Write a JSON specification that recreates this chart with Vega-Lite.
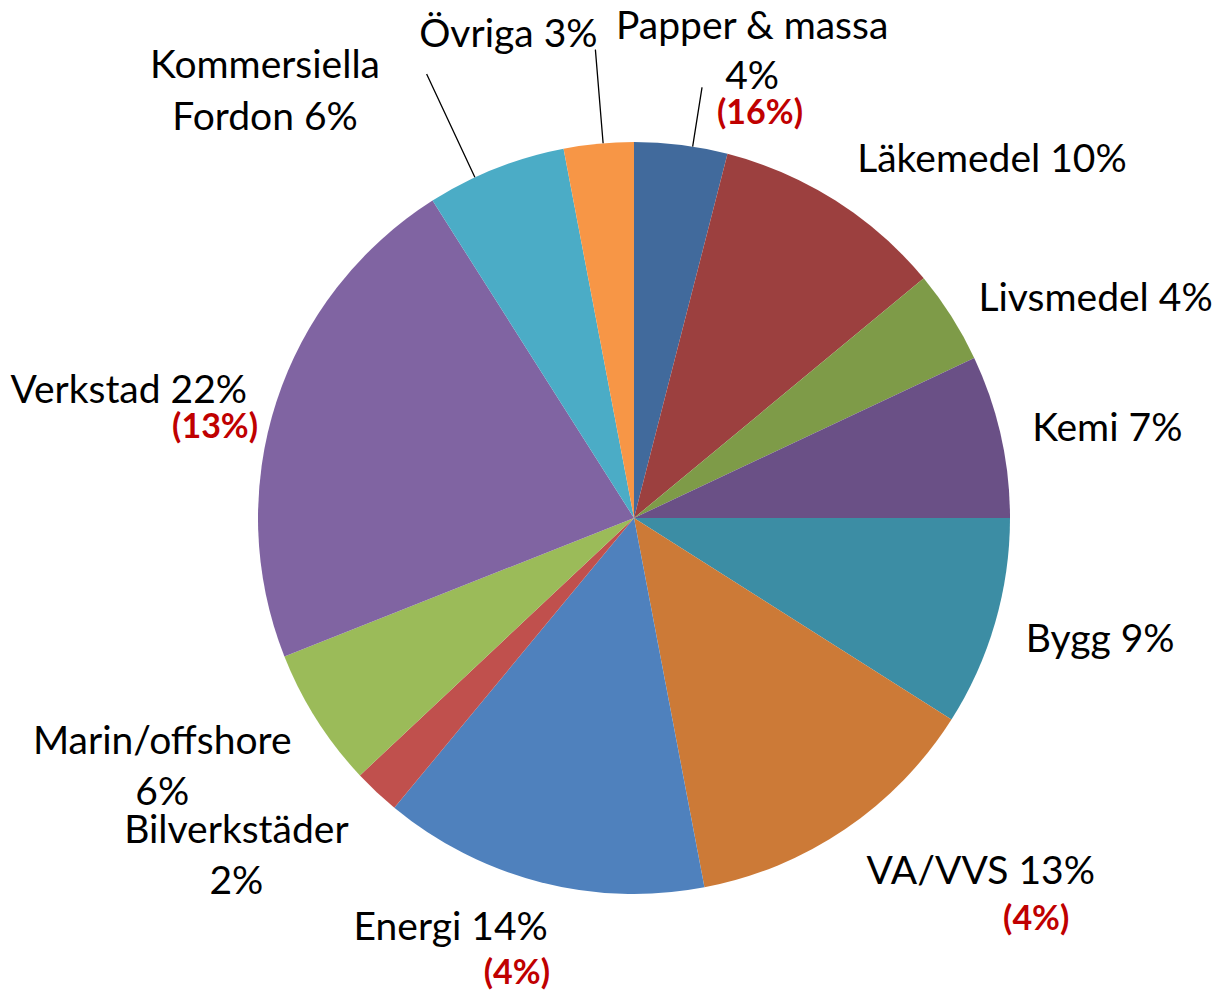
{
  "$schema": "https://vega.github.io/schema/vega-lite/v6.json",
  "autosize": "none",
  "padding": {"left": 53, "top": 40, "right": 0, "bottom": 0},
  "width": 1162,
  "height": 956,
  "background": "white",
  "view": {"stroke": null},
  "config": {"text": {"font": "Lato", "fontSize": 39, "baseline": "middle", "lineBreak": "\n", "lineHeight": 52}},
  "data": {
    "values": [
      {"n": 1, "sector": "Papper & massa", "pct": 4, "label": "Papper & massa\n4%", "note": "(16%)"},
      {"n": 2, "sector": "Läkemedel", "pct": 10, "label": "Läkemedel 10%", "note": ""},
      {"n": 3, "sector": "Livsmedel", "pct": 4, "label": "Livsmedel 4%", "note": ""},
      {"n": 4, "sector": "Kemi", "pct": 7, "label": "Kemi 7%", "note": ""},
      {"n": 5, "sector": "Bygg", "pct": 9, "label": "Bygg 9%", "note": ""},
      {"n": 6, "sector": "VA/VVS", "pct": 13, "label": "VA/VVS 13%", "note": "(4%)"},
      {"n": 7, "sector": "Energi", "pct": 14, "label": "Energi 14%", "note": "(4%)"},
      {"n": 8, "sector": "Bilverkstäder", "pct": 2, "label": "Bilverkstäder\n2%", "note": ""},
      {"n": 9, "sector": "Marin/offshore", "pct": 6, "label": "Marin/offshore\n6%", "note": ""},
      {"n": 10, "sector": "Verkstad", "pct": 22, "label": "Verkstad 22%", "note": "(13%)"},
      {"n": 11, "sector": "Kommersiella Fordon", "pct": 6, "label": "Kommersiella\nFordon 6%", "note": ""},
      {"n": 12, "sector": "Övriga", "pct": 3, "label": "Övriga 3%", "note": ""}
    ]
  },
  "encoding": {
    "theta": {"field": "pct", "type": "quantitative", "stack": true},
    "order": {"field": "n", "type": "quantitative"}
  },
  "layer": [
    {
      "mark": {"type": "arc", "radius": 376},
      "encoding": {
        "color": {
          "field": "sector", "type": "nominal", "legend": null,
          "sort": ["Papper & massa", "Läkemedel", "Livsmedel", "Kemi", "Bygg", "VA/VVS", "Energi", "Bilverkstäder", "Marin/offshore", "Verkstad", "Kommersiella Fordon", "Övriga"],
          "scale": {
            "domain": ["Papper & massa", "Läkemedel", "Livsmedel", "Kemi", "Bygg", "VA/VVS", "Energi", "Bilverkstäder", "Marin/offshore", "Verkstad", "Kommersiella Fordon", "Övriga"],
            "range": ["#416A9C", "#9C403F", "#7E9B48", "#6A5086", "#3C8DA4", "#CC7A37", "#4F81BD", "#C0504D", "#9BBB59", "#8064A2", "#4BACC6", "#F79646"]
          }
        }
      }
    },
    {
      "mark": {"type": "arc", "innerRadius": 376, "outerRadius": 436, "padAngle": 1.5, "thetaOffset": 0.031, "fillOpacity": 0, "stroke": "black", "strokeWidth": 1.3},
      "encoding": {
        "detail": {"field": "sector"},
        "strokeOpacity": {"condition": {"test": "datum.sector === 'Papper & massa'", "value": 1}, "value": 0}
      }
    },
    {
      "mark": {"type": "arc", "innerRadius": 376, "outerRadius": 470, "padAngle": 1.5, "thetaOffset": 0.012, "fillOpacity": 0, "stroke": "black", "strokeWidth": 1.3},
      "encoding": {
        "detail": {"field": "sector"},
        "strokeOpacity": {"condition": {"test": "datum.sector === 'Övriga'", "value": 1}, "value": 0}
      }
    },
    {
      "mark": {"type": "arc", "innerRadius": 376, "outerRadius": 490, "padAngle": 1.5, "thetaOffset": -0.06, "fillOpacity": 0, "stroke": "black", "strokeWidth": 1.3},
      "encoding": {
        "detail": {"field": "sector"},
        "strokeOpacity": {"condition": {"test": "datum.sector === 'Kommersiella Fordon'", "value": 1}, "value": 0}
      }
    },
    {
      "mark": {"type": "text", "radius": 408, "align": "left", "color": "black"},
      "encoding": {
        "detail": {"field": "sector"},
        "text": {"condition": {"test": "indexof(['Livsmedel','Kemi'], datum.sector) >= 0", "field": "label"}, "value": ""}
      }
    },
    {
      "mark": {"type": "text", "radius": 408, "align": "left", "dy": 8, "color": "black"},
      "encoding": {
        "detail": {"field": "sector"},
        "text": {"condition": {"test": "datum.sector === 'Bygg'", "field": "label"}, "value": ""}
      }
    },
    {
      "mark": {"type": "text", "radius": 424, "align": "left", "dx": -4, "color": "black"},
      "encoding": {
        "detail": {"field": "sector"},
        "text": {"condition": {"test": "datum.sector === 'Läkemedel'", "field": "label"}, "value": ""}
      }
    },
    {
      "mark": {"type": "text", "radius": 428, "align": "left", "dx": -8, "color": "black"},
      "encoding": {
        "detail": {"field": "sector"},
        "text": {"condition": {"test": "datum.sector === 'VA/VVS'", "field": "label"}, "value": ""}
      }
    },
    {
      "mark": {"type": "text", "radius": 410, "align": "right", "dx": 3, "color": "black"},
      "encoding": {
        "detail": {"field": "sector"},
        "text": {"condition": {"test": "datum.sector === 'Verkstad'", "field": "label"}, "value": ""}
      }
    },
    {
      "mark": {"type": "text", "radius": 423, "align": "right", "dx": 19, "color": "black"},
      "encoding": {
        "detail": {"field": "sector"},
        "text": {"condition": {"test": "datum.sector === 'Energi'", "field": "label"}, "value": ""}
      }
    },
    {
      "mark": {"type": "text", "radius": 464, "align": "center", "dx": -80, "dy": -25, "lineHeight": 51, "color": "black"},
      "encoding": {
        "detail": {"field": "sector"},
        "text": {"condition": {"test": "datum.sector === 'Bilverkstäder' || datum.sector === 'Marin/offshore'", "field": "label"}, "value": ""}
      }
    },
    {
      "mark": {"type": "text", "radius": 472, "align": "center", "dx": 59, "dy": -23, "lineHeight": 50, "color": "black"},
      "encoding": {
        "detail": {"field": "sector"},
        "text": {"condition": {"test": "datum.sector === 'Papper & massa'", "field": "label"}, "value": ""}
      }
    },
    {
      "mark": {"type": "text", "radius": 485, "align": "center", "dx": -80, "color": "black"},
      "encoding": {
        "detail": {"field": "sector"},
        "text": {"condition": {"test": "datum.sector === 'Övriga'", "field": "label"}, "value": ""}
      }
    },
    {
      "mark": {"type": "text", "radius": 459, "align": "center", "dx": -200, "dy": -25, "color": "black"},
      "encoding": {
        "detail": {"field": "sector"},
        "text": {"condition": {"test": "datum.sector === 'Kommersiella Fordon'", "field": "label"}, "value": ""}
      }
    },
    {
      "mark": {"type": "text", "radius": 407, "align": "center", "dx": 75, "fontWeight": "bold", "fontSize": 34, "color": "#C00000"},
      "encoding": {
        "detail": {"field": "sector"},
        "text": {"condition": {"test": "datum.sector === 'Papper & massa'", "field": "note"}, "value": ""}
      }
    },
    {
      "mark": {"type": "text", "radius": 486, "align": "center", "dx": 129, "fontWeight": "bold", "fontSize": 34, "color": "#C00000"},
      "encoding": {
        "detail": {"field": "sector"},
        "text": {"condition": {"test": "datum.sector === 'VA/VVS'", "field": "note"}, "value": ""}
      }
    },
    {
      "mark": {"type": "text", "radius": 471, "align": "center", "fontWeight": "bold", "fontSize": 34, "color": "#C00000"},
      "encoding": {
        "detail": {"field": "sector"},
        "text": {"condition": {"test": "datum.sector === 'Energi'", "field": "note"}, "value": ""}
      }
    },
    {
      "mark": {"type": "text", "radius": 410, "align": "right", "dx": 14, "dy": 37, "fontWeight": "bold", "fontSize": 34, "color": "#C00000"},
      "encoding": {
        "detail": {"field": "sector"},
        "text": {"condition": {"test": "datum.sector === 'Verkstad'", "field": "note"}, "value": ""}
      }
    }
  ]
}
